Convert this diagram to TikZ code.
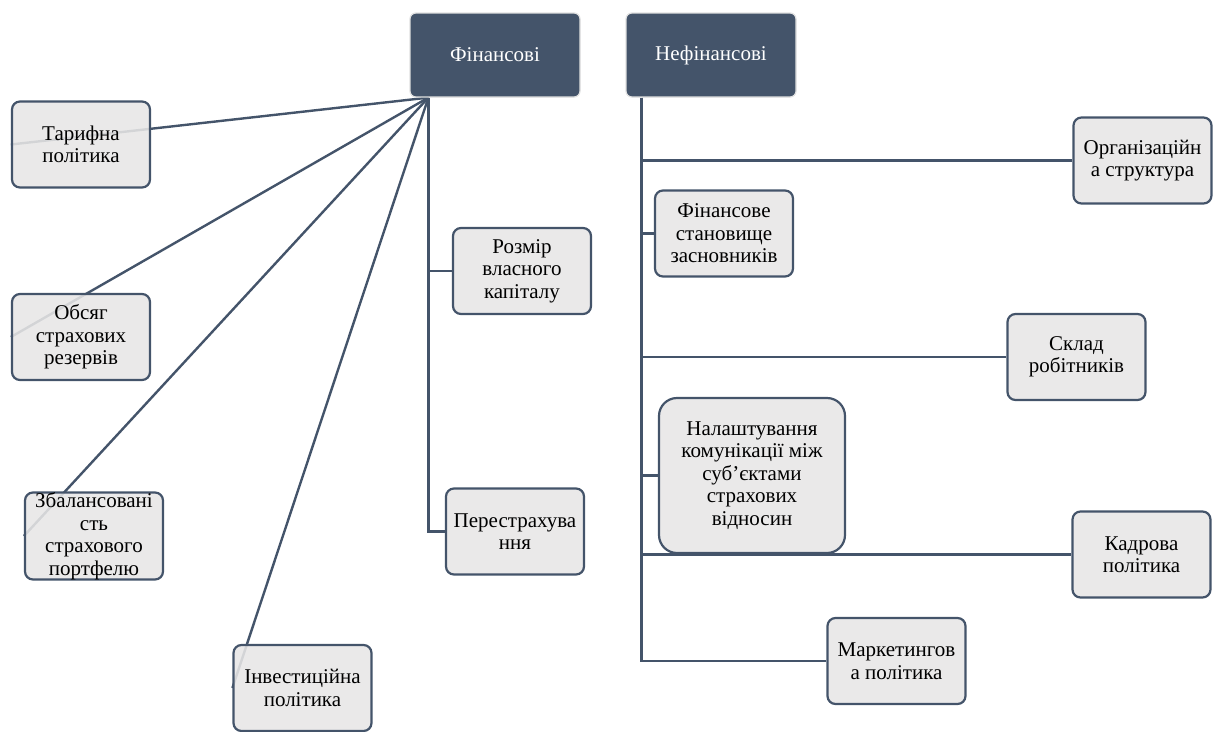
\documentclass[tikz,border=0pt]{standalone}
\usepackage{fontspec}
\setmainfont{Liberation Serif}
\usetikzlibrary{calc,backgrounds}
\definecolor{slate}{HTML}{44546A}
\definecolor{boxgray}{HTML}{E7E6E6}
\tikzset{
  head/.style={rectangle, rounded corners=6pt, fill=slate, draw=black!12, line width=1.2pt,
    text=white, minimum width=170pt, minimum height=84pt, inner sep=0pt, align=center,
    font=\fontsize{21}{22.5}\selectfont},
  item/.style={rectangle, rounded corners=8pt, fill=boxgray, fill opacity=0.88, text opacity=1,
    draw=slate, draw opacity=1, line width=2.2pt, minimum width=138pt, minimum height=86pt,
    inner sep=0pt, align=center, font=\fontsize{21}{22.5}\selectfont},
  conn/.style={draw=slate, line width=2.4pt},
}
\begin{document}
\begin{tikzpicture}[x=1pt,y=-1pt]
\useasboundingbox (0,0) rectangle (1214,731);
% headers
\node[head] (fin) at (495,55) {Фінансові};
\node[head] (nefin) at (711,55) {Нефінансові};
% financial factors
\node[item] (tar) at (81,144.5) {Тарифна\\політика};
\node[item] (obs) at (81,337) {Обсяг\\страхових\\резервів};
\node[item] (zbal) at (94,536) {Збалансовані\\сть\\страхового\\портфелю};
\node[item] (inv) at (302.5,688) {Інвестиційна\\політика};
\node[item] (roz) at (522,271) {Розмір\\власного\\капіталу};
\node[item] (per) at (515,531.5) {Перестрахува\\ння};
% non-financial factors
\node[item] (org) at (1142.5,160.5) {Організаційн\\а структура};
\node[item] (fst) at (724,233.5) {Фінансове\\становище\\засновників};
\node[item] (skl) at (1076.5,357) {Склад\\робітників};
\node[item, rounded corners=18pt, minimum width=186pt, minimum height=155pt] (nal) at (752,475.5)
  {Налаштування\\комунікації між\\суб’єктами\\страхових\\відносин};
\node[item] (kad) at (1141.5,554.5) {Кадрова\\політика};
\node[item] (mar) at (896.5,661) {Маркетингов\\а політика};
\coordinate (ft) at ($(fin.south west)+(19,0)$);
\coordinate (nt) at ($(nefin.south west)+(16,0)$);
\begin{scope}[on background layer]
  \draw[conn] (ft) -- (tar.west);
  \draw[conn] (ft) -- (obs.west);
  \draw[conn] (ft) -- (zbal.west);
  \draw[conn] (ft) -- (inv.west);
  \draw[conn] (ft) |- (roz.west);
  \draw[conn] (ft) |- (per.west);
  \draw[conn] (nt) |- (org.west);
  \draw[conn] (nt) |- (fst.west);
  \draw[conn] (nt) |- (skl.west);
  \draw[conn] (nt) |- (nal.west);
  \draw[conn] (nt) |- (kad.west);
  \draw[conn] (nt) |- (mar.west);
\end{scope}
\end{tikzpicture}
\end{document}
